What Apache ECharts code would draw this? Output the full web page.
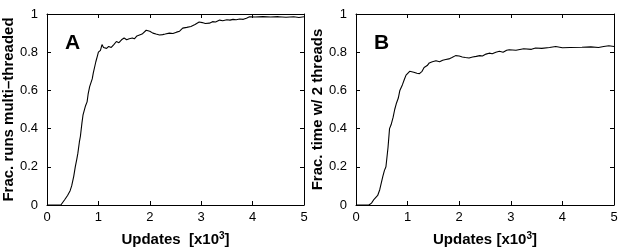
<!DOCTYPE html>
<html>
<head>
<meta charset="utf-8">
<script src="https://cdn.jsdelivr.net/npm/echarts@6/dist/echarts.min.js"></script>
<style>html,body{margin:0;padding:0;background:#fff}#c{width:623px;height:252px}</style>
</head>
<body>
<div id="c"></div>
<script>
// Updates (x10^3) and values
const xA = [0,0.27,0.30,0.35,0.40,0.45,0.48,0.52,0.55,0.58,0.60,0.63,0.65,0.68,0.70,0.72,0.75,0.78,0.80,0.83,0.85,0.88,0.90,0.92,0.95,0.98,1.00,1.04,1.07,1.10,1.13,1.16,1.20,1.25,1.30,1.35,1.40,1.45,1.50,1.55,1.60,1.66,1.70,1.75,1.80,1.85,1.93,2.00,2.06,2.12,2.19,2.25,2.30,2.38,2.45,2.52,2.58,2.64,2.72,2.80,2.88,2.96,3.02,3.08,3.16,3.22,3.28,3.36,3.42,3.50,3.56,3.62,3.68,3.75,3.82,3.88,3.94,4.05,4.20,4.35,4.50,4.65,4.80,4.90,5.00];
const yA = [0,0,0.01,0.03,0.05,0.075,0.10,0.15,0.20,0.24,0.27,0.33,0.36,0.43,0.47,0.48,0.52,0.54,0.58,0.62,0.63,0.66,0.69,0.70,0.75,0.78,0.80,0.81,0.84,0.825,0.835,0.82,0.83,0.825,0.84,0.856,0.85,0.865,0.874,0.865,0.87,0.874,0.87,0.885,0.89,0.895,0.915,0.91,0.90,0.895,0.89,0.892,0.895,0.90,0.898,0.905,0.91,0.926,0.93,0.935,0.945,0.958,0.955,0.95,0.952,0.96,0.958,0.968,0.965,0.97,0.968,0.972,0.97,0.974,0.972,0.978,0.985,0.984,0.986,0.984,0.986,0.983,0.986,0.982,0.986];
const xB = [0,0.25,0.30,0.35,0.42,0.46,0.52,0.55,0.58,0.62,0.65,0.68,0.72,0.75,0.78,0.82,0.85,0.90,0.94,0.97,1.00,1.04,1.07,1.12,1.18,1.23,1.28,1.32,1.38,1.42,1.48,1.55,1.62,1.68,1.74,1.80,1.86,1.93,2.00,2.06,2.12,2.19,2.26,2.33,2.40,2.45,2.52,2.58,2.64,2.71,2.78,2.85,2.92,2.97,3.10,3.25,3.40,3.48,3.60,3.75,3.87,4.00,4.15,4.38,4.55,4.70,4.80,4.90,5.00];
const yB = [0,0,0.01,0.03,0.05,0.08,0.15,0.18,0.20,0.30,0.40,0.42,0.46,0.50,0.53,0.56,0.60,0.63,0.66,0.68,0.69,0.70,0.70,0.695,0.69,0.688,0.70,0.72,0.73,0.744,0.75,0.755,0.75,0.758,0.762,0.765,0.772,0.782,0.78,0.775,0.772,0.77,0.775,0.778,0.782,0.78,0.79,0.795,0.792,0.80,0.805,0.80,0.81,0.813,0.81,0.818,0.815,0.822,0.82,0.825,0.83,0.823,0.825,0.826,0.828,0.825,0.83,0.834,0.83];
const xTicks = [0,1,2,3,4,5];
const yTicks = [0,0.2,0.4,0.6,0.8,1];
const yTitleA = 'Frac. runs multi\u2013threaded';
const yTitleB = 'Frac. time w/ 2 threads';
const xTitleA = '{a|Updates  [x10}{s|3}{a|]}';
const xTitleB = '{a|Updates [x10}{s|3}{a|]}';

const font = 'Liberation Sans, Arial, Helvetica, sans-serif';
const lineC = '#000';
const titleStyle = {color:'#000', fontSize:15, fontWeight:'bold', fontFamily:font};
function xAx(g, main, title){
  return {type:'value', gridIndex:g, position: main?'bottom':'top', min:xTicks[0], max:xTicks[xTicks.length-1], interval:1,
    axisLine:{show:true, onZero:false, lineStyle:{color:lineC, width:1}},
    axisTick:{show:true, inside:true, length:4, lineStyle:{color:lineC}},
    axisLabel:{show:main, color:'#000', fontSize:13, fontFamily:font, margin:6},
    splitLine:{show:false},
    name: main?title:'', nameLocation:'middle', nameGap:26,
    nameTextStyle:Object.assign({}, titleStyle, {rich:{
      a:{color:'#000', fontSize:15, fontWeight:'bold', fontFamily:font, lineHeight:17},
      s:{color:'#000', fontSize:10, fontWeight:'bold', fontFamily:font, verticalAlign:'top', lineHeight:17, padding:[0,0,6,0]}
    }})};
}
function yAx(g, main, title){
  return {type:'value', gridIndex:g, position: main?'left':'right', min:yTicks[0], max:yTicks[yTicks.length-1], interval:0.2,
    axisLine:{show:true, onZero:false, lineStyle:{color:lineC, width:1}},
    axisTick:{show:true, inside:true, length:4, lineStyle:{color:lineC}},
    axisLabel:{show:main, color:'#000', fontSize:13, fontFamily:font, margin:9},
    splitLine:{show:false},
    name: main?title:'', nameLocation:'middle', nameGap:27,
    nameTextStyle:titleStyle};
}
const zip = (xs, ys) => xs.map((x,i)=>[x, ys[i]]);
const chart = echarts.init(document.getElementById('c'), null, {renderer:'canvas'});
chart.setOption({
  animation:false,
  backgroundColor:'#fff',
  grid:[
    {left:47, top:14, width:257, height:193},
    {left:356, top:14, width:258, height:193}
  ],
  xAxis:[xAx(0,true,xTitleA), xAx(0,false), xAx(1,true,xTitleB), xAx(1,false)],
  yAxis:[yAx(0,true,yTitleA), yAx(0,false), yAx(1,true,yTitleB), yAx(1,false)],
  series:[
    {type:'line', xAxisIndex:0, yAxisIndex:0, data:zip(xA,yA), showSymbol:false, lineStyle:{color:'#000', width:1.1}},
    {type:'line', xAxisIndex:2, yAxisIndex:2, data:zip(xB,yB), showSymbol:false, lineStyle:{color:'#000', width:1.1}}
  ],
  graphic:[
    {type:'text', left:65, top:33, style:{text:'A', fill:'#000', font:'bold 21px '+font}},
    {type:'text', left:374, top:33, style:{text:'B', fill:'#000', font:'bold 21px '+font}}
  ]
});
</script>
</body>
</html>
